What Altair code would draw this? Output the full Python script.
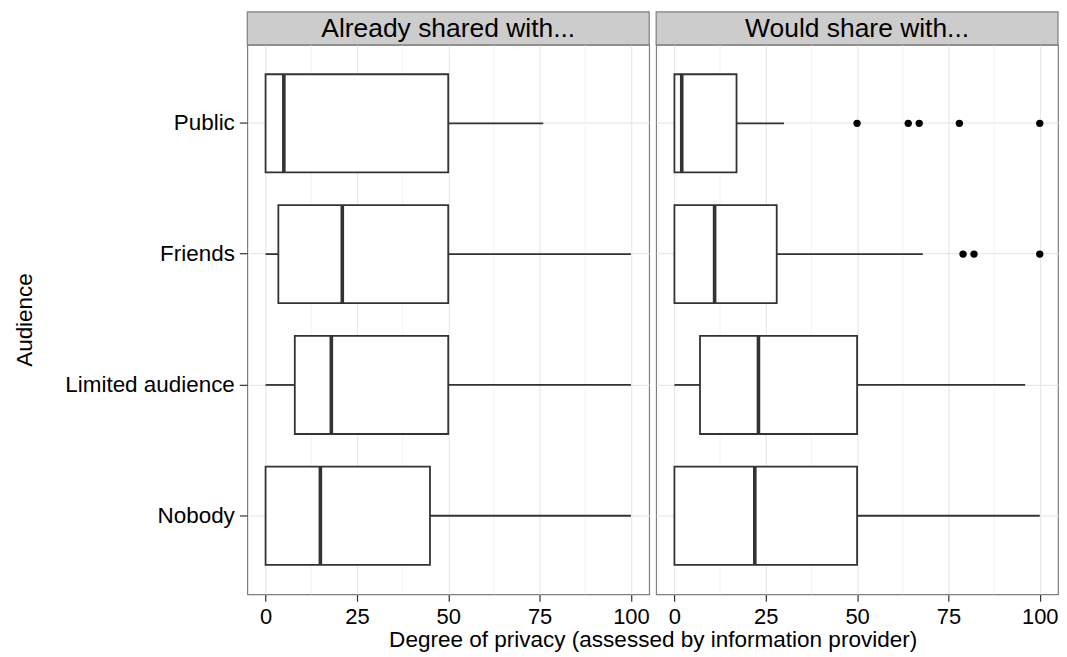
import altair as alt
import pandas as pd

# Audience categories, top to bottom
audiences = ["Public", "Friends", "Limited audience", "Nobody"]

# Box statistics: "Already shared with..."
already_low = [0, 0, 0, 0]
already_q1 = [0, 3.5, 8, 0]
already_median = [5, 21, 18, 15]
already_q3 = [50, 50, 50, 45]
already_high = [76, 100, 100, 100]
already_outlier_audience = []
already_outlier_value = []

# Box statistics: "Would share with..."
would_low = [0, 0, 0, 0]
would_q1 = [0, 0, 7, 0]
would_median = [2, 11, 23, 22]
would_q3 = [17, 28, 50, 50]
would_high = [30, 68, 96, 100]
would_outlier_audience = ["Public", "Public", "Public", "Public", "Public",
                          "Friends", "Friends", "Friends"]
would_outlier_value = [50, 64, 67, 78, 100, 79, 82, 100]

# Axis breaks
x_breaks = [0, 25, 50, 75, 100]
x_minor_breaks = [12.5, 37.5, 62.5, 87.5]

PANEL_W, PANEL_H = 403, 551
STRIP_H = 33
FONT = "Liberation Sans"
INK = "#333333"


def panel(label, low, q1, med, q3, high, out_aud, out_val, first):
    stats = pd.DataFrame({"audience": audiences, "low": low, "q1": q1,
                          "median": med, "q3": q3, "high": high})
    outliers = pd.DataFrame({"audience": out_aud, "value": out_val})
    minor = pd.DataFrame({"pos": x_minor_breaks})
    strip = pd.DataFrame({"label": [label]})

    x_scale = alt.Scale(domain=[-5, 105], nice=False, zero=False)
    y_scale = alt.Scale(domain=audiences, paddingInner=0.25, paddingOuter=0.225)

    x_axis_kw = dict(values=x_breaks, grid=True, gridColor="#e8e8e8", gridWidth=1.2,
                     domain=False, tickColor=INK, tickSize=7, tickWidth=1.2,
                     labelFontSize=22, labelColor="black", labelFont=FONT,
                     labelPadding=5, labelFlush=False, labelOverlap=False)
    if first:
        x_axis = alt.Axis(title="Degree of privacy (assessed by information provider)",
                          titleX=PANEL_W + 3.5, titleFontSize=22.6, titleFont=FONT,
                          titleFontWeight="normal", titleColor="black", titlePadding=1,
                          **x_axis_kw)
        y_axis = alt.Axis(title="Audience", grid=True, gridColor="#e8e8e8", gridWidth=1.2,
                          bandPosition=0.5, domain=False, tickColor=INK, tickSize=8,
                          tickWidth=1.2, labelFontSize=22.5, labelColor="black",
                          labelFont=FONT, labelPadding=5, titleFontSize=22.5,
                          titleFont=FONT, titleFontWeight="normal", titleColor="black",
                          titlePadding=28)
    else:
        x_axis = alt.Axis(title=None, **x_axis_kw)
        y_axis = alt.Axis(title=None, grid=True, gridColor="#e8e8e8", gridWidth=1.2,
                          bandPosition=0.5, domain=False, labels=False, ticks=False)

    y = alt.Y("audience:N", scale=y_scale, sort=audiences, axis=y_axis)

    def xq(field):
        return alt.X(f"{field}:Q", scale=x_scale, axis=x_axis)

    minor_grid = alt.Chart(minor).mark_rule(color="#f5f5f5", strokeWidth=1.2).encode(
        x=xq("pos"))
    whisker_lo = alt.Chart(stats).mark_rule(color=INK, strokeWidth=1.8).encode(
        x=xq("low"), x2="q1", y=y)
    whisker_hi = alt.Chart(stats).mark_rule(color=INK, strokeWidth=1.8).encode(
        x=xq("q3"), x2="high", y=y)
    box = alt.Chart(stats).mark_bar(fill="white", stroke=INK, strokeWidth=1.8).encode(
        x=xq("q1"), x2="q3", y=y)
    median = alt.Chart(stats).mark_bar(fill=INK, stroke=INK, strokeWidth=3.6).encode(
        x=xq("median"), x2="median", y=y)
    layers = [minor_grid, whisker_lo, whisker_hi, box, median]
    if len(outliers):
        layers.append(alt.Chart(outliers).mark_circle(color="black", size=54, opacity=1).encode(
            x=xq("value"), y=y))
    strip_bg = alt.Chart(strip).mark_rect(fill="#cccccc", stroke="#7f7f7f", strokeWidth=1.2).encode(
        x=alt.value(0), x2=alt.value(PANEL_W), y=alt.value(-STRIP_H), y2=alt.value(0))
    strip_text = alt.Chart(strip).mark_text(fontSize=26.5, font=FONT, color="black",
                                            baseline="middle", align="center").encode(
        x=alt.value(PANEL_W / 2), y=alt.value(-STRIP_H / 2 + 1), text="label:N")
    layers += [strip_bg, strip_text]
    return alt.layer(*layers).properties(width=PANEL_W, height=PANEL_H)


left = panel("Already shared with...", already_low, already_q1, already_median,
             already_q3, already_high, already_outlier_audience, already_outlier_value, True)
right = panel("Would share with...", would_low, would_q1, would_median,
              would_q3, would_high, would_outlier_audience, would_outlier_value, False)

chart = alt.hconcat(left, right, spacing=7, bounds="flush").properties(
    padding={"left": 13, "top": 9, "right": 7, "bottom": 4},
    background="white",
).configure_view(stroke="#7f7f7f", strokeWidth=1.2)

chart.save("out.html", embed_options={"renderer": "svg", "actions": False})
